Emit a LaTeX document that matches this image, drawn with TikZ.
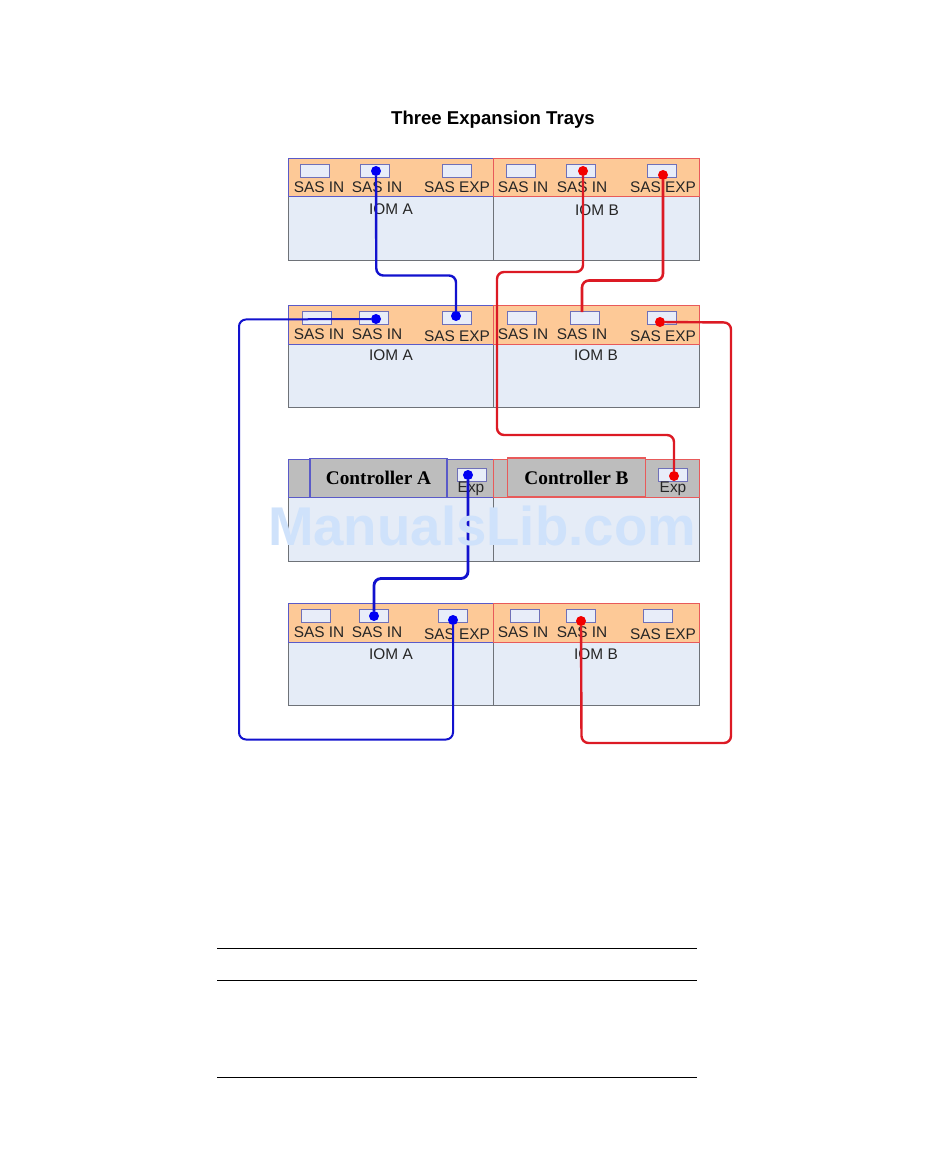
\documentclass[tikz,border=0pt]{standalone}
\usepackage{fontspec}
\setmainfont{Liberation Sans}
\newfontfamily\ctrlfont{Liberation Serif}
\usetikzlibrary{positioning}

\definecolor{bandorange}{HTML}{FDC997}
\definecolor{bodyblue}{HTML}{E5ECF7}
\definecolor{portfill}{HTML}{E8EDF9}
\definecolor{portline}{HTML}{6F70B8}
\definecolor{bodyline}{HTML}{6E7278}
\definecolor{ctrlgray}{HTML}{BDBDBD}
\definecolor{markblue}{HTML}{CFE2FB}
\definecolor{wireblue}{HTML}{1212CE}
\definecolor{wirered}{HTML}{DC1A24}
\definecolor{edgeblue}{HTML}{5A5AC8}
\definecolor{edgered}{HTML}{E85A5A}

\begin{document}
\begin{tikzpicture}[x=1pt, y=-1pt]

% Define styles
\tikzstyle{body} = [rectangle, draw=bodyline, fill=bodyblue, line width=1pt, anchor=north west,
    inner sep=0pt, minimum width=205pt, minimum height=102pt]
\tikzstyle{bandA} = [rectangle, draw=edgeblue, fill=bandorange, line width=0.9pt, anchor=north west,
    inner sep=0pt, minimum width=205pt, minimum height=38.5pt]
\tikzstyle{bandB} = [bandA, draw=edgered, minimum width=206pt]
\tikzstyle{ctrlA} = [bandA, draw=edgeblue, fill=ctrlgray]
\tikzstyle{ctrlB} = [bandB, draw=edgered, fill=ctrlgray]
\tikzstyle{ctrlbox} = [rectangle, fill=ctrlgray, line width=1.2pt, inner sep=0pt, minimum width=137pt,
    minimum height=39pt, font=\ctrlfont\bfseries\fontsize{19.3}{19.3}\selectfont]
\tikzstyle{port} = [rectangle, draw=portline, fill=portfill, line width=0.9pt, inner sep=0pt,
    minimum width=29pt, minimum height=13pt]
\tikzstyle{lbl} = [inner sep=0pt, text=black!85, font=\fontsize{15.4}{15.4}\selectfont]
\tikzstyle{bluedot} = [circle, fill=blue!95!black, inner sep=0pt, minimum size=10pt]
\tikzstyle{reddot} = [circle, fill=red!95!black, inner sep=0pt, minimum size=10pt]
\tikzstyle{bluewire} = [draw=wireblue, line width=2.4pt, rounded corners=7pt]
\tikzstyle{redwire} = [draw=wirered, line width=2.4pt, rounded corners=7pt]

\useasboundingbox (0,0) rectangle (950,1161);

% Title
\node [inner sep=0pt, font=\bfseries\fontsize{18.6}{18.6}\selectfont] (title) at (493,120) {Three Expansion Trays};

% Top tray
\node [body] (topA) at (288,158) {};
\node [body, minimum width=206pt] (topB) at (493,158) {};
\node [bandA] (topbandA) at (288,158) {};
\node [bandB] (topbandB) at (493,158) {};
\node [port] (topportA1) at (315,171) {};
\node [port] (topportA2) at (375,171) {};
\node [port] (topportA3) at (456.5,171) {};
\node [port] (topportB1) at (520.5,171) {};
\node [port] (topportB2) at (580.5,171) {};
\node [port] (topportB3) at (662,171) {};
\node [lbl] (toplblA1) at (319,187) {SAS IN};
\node [lbl] (toplblA2) at (377,187) {SAS IN};
\node [lbl] (toplblA3) at (457,187) {SAS EXP};
\node [lbl] (toplblB1) at (523,187) {SAS IN};
\node [lbl] (toplblB2) at (582,187) {SAS IN};
\node [lbl] (toplblB3) at (663,187) {SAS EXP};
\node [lbl] (topiomA) at (391,209) {IOM A};
\node [lbl] (topiomB) at (597,210) {IOM B};

% Second tray
\node [body] (midA) at (288,305) {};
\node [body, minimum width=206pt] (midB) at (493,305) {};
\node [bandA] (midbandA) at (288,305) {};
\node [bandB] (midbandB) at (493,305) {};
\node [port] (midportA1) at (316.5,318) {};
\node [port] (midportA2) at (373.5,318) {};
\node [port] (midportA3) at (456.5,318) {};
\node [port] (midportB1) at (522,318) {};
\node [port] (midportB2) at (585,318) {};
\node [port] (midportB3) at (662,318) {};
\node [lbl] (midlblA1) at (319,334) {SAS IN};
\node [lbl] (midlblA2) at (377,334) {SAS IN};
\node [lbl] (midlblA3) at (457,336) {SAS EXP};
\node [lbl] (midlblB1) at (523,334) {SAS IN};
\node [lbl] (midlblB2) at (582,334) {SAS IN};
\node [lbl] (midlblB3) at (663,336) {SAS EXP};
\node [lbl] (midiomA) at (391,355) {IOM A};
\node [lbl] (midiomB) at (596,355) {IOM B};

% Controller tray
\node [body] (ctrlbodyA) at (288,459) {};
\node [body, minimum width=206pt] (ctrlbodyB) at (493,459) {};
\node [ctrlA] (ctrlbandA) at (288,458.5) {};
\node [ctrlB] (ctrlbandB) at (493,458.5) {};
\node [ctrlbox, draw=edgeblue] (controllerA) at (378.5,478) {Controller A};
\node [ctrlbox, draw=edgered, minimum width=138pt] (controllerB) at (576.5,477.5) {Controller B};
\node [port] (expA) at (471.5,474.5) {};
\node [port] (expB) at (672.5,474.5) {};
\node [lbl] (explblA) at (471,489) {Exp};
\node [lbl] (explblB) at (673,489) {Exp};

% Bottom tray
\node [body] (lowA) at (288,603) {};
\node [body, minimum width=206pt] (lowB) at (493,603) {};
\node [bandA] (lowbandA) at (288,603) {};
\node [bandB] (lowbandB) at (493,603) {};
\node [port] (lowportA1) at (315.5,616) {};
\node [port] (lowportA2) at (373.5,616) {};
\node [port] (lowportA3) at (453,616) {};
\node [port] (lowportB1) at (524.5,616) {};
\node [port] (lowportB2) at (581,616) {};
\node [port] (lowportB3) at (657.5,616) {};
\node [lbl] (lowlblA1) at (319,632) {SAS IN};
\node [lbl] (lowlblA2) at (377,632) {SAS IN};
\node [lbl] (lowlblA3) at (457,634) {SAS EXP};
\node [lbl] (lowlblB1) at (523,632) {SAS IN};
\node [lbl] (lowlblB2) at (582,632) {SAS IN};
\node [lbl] (lowlblB3) at (663,634) {SAS EXP};
\node [lbl] (lowiomA) at (391,654) {IOM A};
\node [lbl] (lowiomB) at (596,654) {IOM B};

% Cable ends
\node [bluedot] (dotA1) at (376,171) {};
\node [bluedot] (dotA2) at (456,316) {};
\node [bluedot] (dotA3) at (376,319) {};
\node [bluedot] (dotA4) at (453,620) {};
\node [bluedot] (dotA5) at (468,475) {};
\node [bluedot] (dotA6) at (374,616) {};
\node [reddot] (dotB1) at (583,171) {};
\node [reddot] (dotB2) at (674,476) {};
\node [reddot] (dotB3) at (663,175) {};
\node [reddot] (dotB4) at (660,322) {};
\node [reddot] (dotB5) at (581,621) {};
\coordinate (endB3) at (582,312);

% Draw cables
\path [bluewire] (dotA1) -- (376.3,275.5) -- (456,275.5) -- (dotA2);
\path [bluewire, line width=2pt] (dotA3) -- (239,319.5) -- (239,739.5) -- (453,739.5) -- (dotA4);
\path [bluewire, line width=2.8pt] (dotA5) -- (468,578.5) -- (374,578.5) -- (dotA6);
\path [redwire] (dotB1) -- (583,272) -- (497,272) -- (497,435) -- (674,435) -- (dotB2);
\path [redwire, line width=2.6pt] (dotB3) -- (663,280.5) -- (582,280.5) -- (endB3);
\path [redwire] (dotB4) -- (731,322.5) -- (731,743) -- (581.5,743) -- (dotB5);

% Watermark
\node [inner sep=0pt, text=markblue, font=\bfseries\fontsize{54.6}{54.6}\selectfont] (watermark) at (482,526) {ManualsLib.com};

% Table rules
\coordinate (ruleAl) at (217,948.5);
\coordinate (ruleAr) at (697,948.5);
\coordinate (ruleBl) at (217,980.5);
\coordinate (ruleBr) at (697,980.5);
\coordinate (ruleCl) at (217,1077);
\coordinate (ruleCr) at (697,1077);
\draw [line width=0.8pt] (ruleAl) -- (ruleAr);
\draw [line width=0.8pt] (ruleBl) -- (ruleBr);
\draw [line width=0.8pt] (ruleCl) -- (ruleCr);

\end{tikzpicture}
\end{document}
